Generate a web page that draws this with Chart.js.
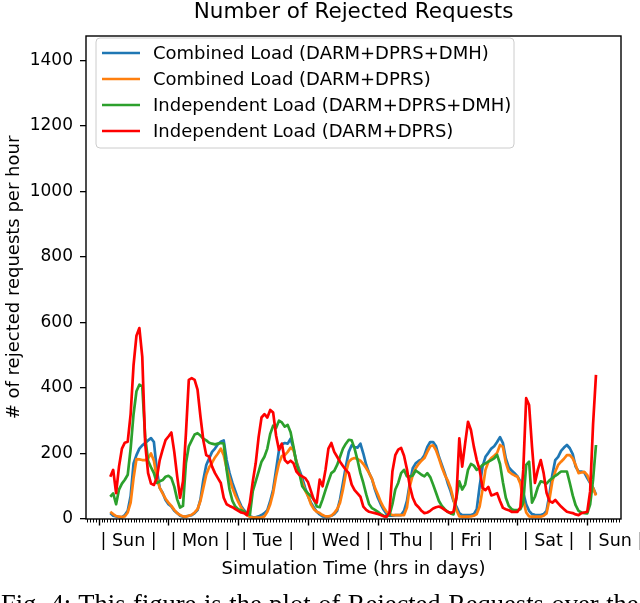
<!DOCTYPE html>
<html>
<head>
<meta charset="utf-8">
<script src="https://cdn.jsdelivr.net/npm/chart.js@4.4.1/dist/chart.umd.min.js"></script>
<style>
html,body{margin:0;padding:0;background:#fff;}
#wrap{position:relative;width:640px;height:603px;overflow:hidden;background:#fff;}
#c{position:absolute;left:0;top:0;}
#caption{position:absolute;left:1px;top:589px;font-family:"Liberation Serif",serif;font-size:26.5px;white-space:nowrap;color:#000;word-spacing:1px;}
</style>
</head>
<body>
<div id="wrap">
<canvas id="c" width="640" height="603"></canvas>
<div id="caption">Fig. 4: This figure is the plot of Rejected Requests over the</div>
</div>
<script>
// ---- data (hourly, one simulated week) ----
const hours = Array.from({length: 168}, (_, i) => i);

const dayLabels = ['| Sun |', '| Mon |', '| Tue |', '| Wed |', '| Thu |', '| Fri |', '| Sat |', '| Sun |'];
const dayLabelHours = [6.3, 31.0, 54.1, 79.3, 101.7, 124.1, 150.7, 173.6];
const majorTickHours = [-4, 20, 44, 68, 92, 116, 140, 164];
const yTickValues = [0, 200, 400, 600, 800, 1000, 1200, 1400];

const seriesNames = [
  'Combined Load (DARM+DPRS+DMH)',
  'Combined Load (DARM+DPRS)',
  'Independent Load (DARM+DPRS+DMH)',
  'Independent Load (DARM+DPRS)'
];
const seriesColors = ['#1f77b4', '#ff7f0e', '#2ca02c', '#ff0000'];

const combinedDMH = [
  18,10,8,6,6,12,25,70,170,195,
  215,225,232,240,247,235,150,95,80,58,
  45,38,25,18,10,7,8,10,12,18,
  27,60,120,165,185,205,215,228,236,240,
  180,140,110,85,60,40,27,15,8,5,
  5,8,12,18,27,55,90,150,210,228,
  232,230,245,215,175,150,125,95,70,50,
  35,22,14,8,7,7,10,15,25,60,
  110,160,205,225,220,218,230,200,165,140,
  122,90,65,45,28,15,10,10,12,12,
  12,25,55,110,155,170,177,182,195,220,
  235,235,222,190,165,140,110,85,55,38,
  18,12,12,12,12,15,30,100,160,190,
  202,215,222,235,250,232,185,158,148,140,
  130,115,80,45,25,15,13,12,12,15,
  25,75,135,180,190,208,218,226,216,198,
  160,145,145,142,125,110,95,75
];
const combined = [
  22,15,9,7,6,8,20,50,125,183,
  182,180,180,185,200,178,125,95,78,62,
  50,40,28,18,12,8,7,10,13,20,
  30,55,95,135,158,172,188,200,215,195,
  155,125,95,72,52,35,22,12,7,4,
  4,4,5,8,22,45,80,130,170,192,
  195,205,218,210,175,140,112,87,70,45,
  30,22,18,12,8,8,10,18,30,50,
  90,140,175,183,186,183,178,168,155,140,
  122,95,75,52,35,22,15,12,12,12,
  12,12,35,100,135,155,168,178,186,205,
  222,225,210,185,158,135,118,95,60,28,
  8,7,7,7,8,10,15,38,90,150,
  175,186,193,202,226,220,172,145,138,133,
  129,108,58,20,8,7,7,7,7,10,
  17,60,115,145,165,175,184,195,195,185,
  165,140,142,144,134,112,95,72
];
const independentDMH = [
  68,78,45,90,108,120,135,215,320,390,
  410,405,250,178,158,140,110,115,119,129,
  132,125,99,60,35,40,170,222,240,258,
  262,255,245,240,233,230,228,230,232,230,
  150,90,55,38,30,27,22,17,13,85,
  115,145,175,190,215,260,285,278,300,295,
  282,287,265,220,170,140,100,88,78,70,
  60,38,36,60,88,115,140,147,165,190,
  215,230,242,240,215,180,140,110,75,45,
  33,28,22,15,10,8,12,45,90,110,
  140,150,130,130,133,148,142,135,130,140,
  128,105,80,55,40,30,22,17,14,65,
  115,90,105,150,168,163,150,155,165,170,
  175,180,185,196,168,112,65,40,30,27,
  27,30,50,165,175,50,68,97,115,112,
  108,118,125,132,138,145,145,145,110,72,
  42,25,20,18,17,45,120,226
];
const independent = [
  129,150,79,160,215,233,236,320,470,560,
  583,495,230,140,108,104,125,180,212,241,
  252,264,205,130,65,115,260,425,430,425,
  395,313,240,195,190,160,140,125,110,65,
  45,40,36,30,25,20,18,12,50,115,
  170,250,310,320,310,333,325,255,211,230,
  180,171,178,170,145,135,130,125,112,85,
  58,50,120,100,150,215,232,205,190,175,
  162,150,140,105,88,78,68,38,28,22,
  20,18,15,12,8,7,20,145,195,212,
  217,193,152,100,65,45,36,25,18,20,
  25,32,36,38,34,28,22,18,22,65,
  246,160,230,297,272,221,180,150,95,88,
  98,72,75,79,55,34,30,27,22,22,
  22,35,150,369,348,221,110,150,180,140,
  80,55,50,58,48,38,30,22,20,18,
  14,12,18,20,22,85,290,440
];
const seriesValues = [combinedDMH, combined, independentDMH, independent];

// ---- chart ----
const FONT = 'DejaVu Sans';

const decor = {
  id: 'decor',
  afterDraw(chart) {
    const ctx = chart.ctx;
    const a = chart.chartArea;
    const x = chart.scales.x;
    ctx.save();
    // minor ticks (hourly)
    ctx.strokeStyle = '#000';
    ctx.lineWidth = 1;
    for (let h = Math.ceil(x.min); h <= Math.floor(x.max); h++) {
      const px = Math.round(x.getPixelForValue(h)) + 0.5;
      ctx.beginPath(); ctx.moveTo(px, a.bottom); ctx.lineTo(px, a.bottom + 3.5); ctx.stroke();
    }
    // major ticks
    ctx.lineWidth = 1.4;
    majorTickHours.forEach(h => {
      const px = Math.round(x.getPixelForValue(h)) + 0.5;
      ctx.beginPath(); ctx.moveTo(px, a.bottom); ctx.lineTo(px, a.bottom + 6.5); ctx.stroke();
    });
    // frame
    ctx.lineWidth = 1.4;
    ctx.strokeRect(a.left, a.top, a.right - a.left, a.bottom - a.top);
    // title
    ctx.fillStyle = '#000';
    ctx.font = '21.5px "' + FONT + '"';
    ctx.textAlign = 'center';
    ctx.textBaseline = 'middle';
    ctx.fillText('Number of Rejected Requests', (a.left + a.right) / 2, 12);
    // legend
    const bx = a.left + 10, by = a.top + 2, bw = 418, bh = 110, r = 4;
    ctx.beginPath();
    ctx.moveTo(bx + r, by);
    ctx.arcTo(bx + bw, by, bx + bw, by + bh, r);
    ctx.arcTo(bx + bw, by + bh, bx, by + bh, r);
    ctx.arcTo(bx, by + bh, bx, by, r);
    ctx.arcTo(bx, by, bx + bw, by, r);
    ctx.closePath();
    ctx.fillStyle = 'rgba(255,255,255,0.8)';
    ctx.fill();
    ctx.strokeStyle = '#cccccc';
    ctx.lineWidth = 1;
    ctx.stroke();
    ctx.font = '18px "' + FONT + '"';
    ctx.textAlign = 'left';
    chart.data.datasets.forEach((ds, i) => {
      const cy = by + 15 + i * 26;
      ctx.strokeStyle = ds.borderColor;
      ctx.lineWidth = 2.6;
      ctx.beginPath(); ctx.moveTo(bx + 6, cy); ctx.lineTo(bx + 44, cy); ctx.stroke();
      ctx.fillStyle = '#000';
      ctx.fillText(ds.label, bx + 57, cy + 1);
    });
    ctx.restore();
  }
};

new Chart(document.getElementById('c'), {
  type: 'line',
  data: {
    labels: hours,
    datasets: seriesNames.map((name, i) => ({
      label: name,
      data: seriesValues[i],
      borderColor: seriesColors[i],
      backgroundColor: seriesColors[i],
      borderWidth: 2.7,
      pointRadius: 0,
      tension: 0,
      fill: false,
      borderJoinStyle: 'round',
      order: 3 - i
    }))
  },
  options: {
    responsive: false,
    animation: false,
    devicePixelRatio: 1,
    layout: { padding: { top: 36, right: 19, left: 0, bottom: 23 } },
    plugins: { legend: { display: false }, title: { display: false }, tooltip: { enabled: false } },
    scales: {
      x: {
        type: 'linear',
        min: -8.35,
        max: 175.6,
        afterFit: s => { s.height = 61; s.paddingLeft = 0; s.paddingRight = 0; },
        afterBuildTicks: s => { s.ticks = dayLabelHours.map(v => ({ value: v })); },
        ticks: {
          autoSkip: false, maxRotation: 0, padding: 12,
          color: '#000', font: { family: FONT, size: 17.5 },
          callback: (v, i) => dayLabels[i]
        },
        grid: { display: false, drawTicks: false },
        border: { display: false },
        title: { display: true, text: 'Simulation Time (hrs in days)', color: '#000', font: { family: FONT, size: 18 }, padding: { top: 0, bottom: 0 } }
      },
      y: {
        min: 0,
        max: 1475,
        afterFit: s => { s.width = 86; s.paddingTop = 0; s.paddingBottom = 0; },
        afterBuildTicks: s => { s.ticks = yTickValues.map(v => ({ value: v })); },
        ticks: { color: '#000', padding: 7, font: { family: FONT, size: 17 }, callback: v => String(v) },
        grid: { drawOnChartArea: false, drawTicks: true, tickLength: 6, color: '#000', lineWidth: 1.3 },
        border: { display: false },
        title: { display: true, text: '# of rejected requests per hour', color: '#000', font: { family: FONT, size: 18 }, padding: { top: 4, bottom: 0 } }
      }
    }
  },
  plugins: [decor]
});
</script>
</body>
</html>
